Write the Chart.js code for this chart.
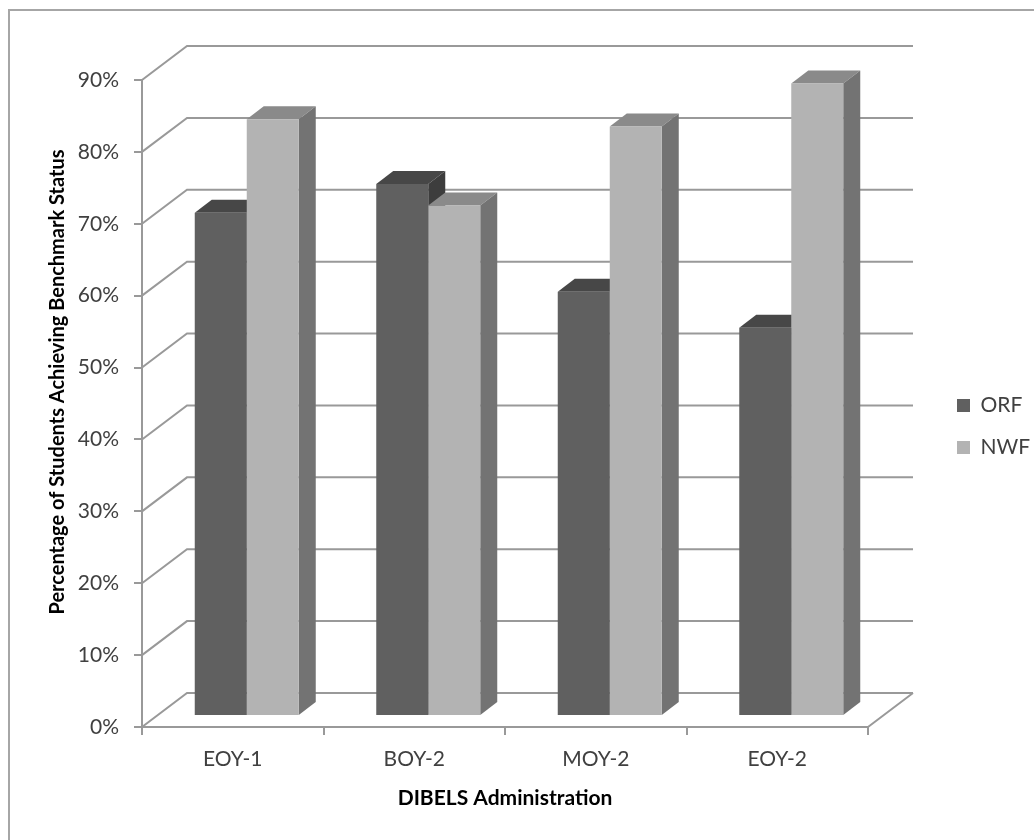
<!DOCTYPE html>
<html>
<head>
<meta charset="utf-8">
<script src="https://cdn.jsdelivr.net/npm/chart.js@4.4.1/dist/chart.umd.min.js"></script>
<style>
  html, body { margin: 0; padding: 0; background: #fff; overflow: hidden; }
  .frame { position: absolute; left: 8px; top: 9px; width: 1100px; height: 900px;
           border-top: 2px solid #a6a6a6; border-left: 2px solid #a6a6a6; }
  #chart { position: absolute; left: 0; top: 0; }
</style>
</head>
<body>
<div class="frame"></div>
<canvas id="chart" width="1034" height="840"></canvas>
<script>
const categories = ['EOY-1', 'BOY-2', 'MOY-2', 'EOY-2'];
const orfValues = [70, 74, 59, 54];
const nwfValues = [83, 71, 82, 88];
const yTicks = [0, 10, 20, 30, 40, 50, 60, 70, 80, 90];

const FONT = 'Lato';
const GRID_COLOR = '#999999';
const TEXT_COLOR = '#404040';
const frontColors = ['#606060', '#b3b3b3'];
const topColors = ['#474747', '#8a8a8a'];
const sideColors = ['#3d3d3d', '#737373'];

// fake 3d: back wall offset, where the bars sit in depth, and how thick they are
const DEPTH = { x: 45, y: -34 };
const BAR_SHIFT = { x: 14, y: -11 };
const BAR_DEPTH = { x: 17, y: -13 };
const LEGEND_WIDTH = 166;
const LEGEND_BOX = { left: 936, top: 374 };

function poly(ctx, pts) {
    ctx.beginPath();
    ctx.moveTo(pts[0][0], pts[0][1]);
    for (let i = 1; i < pts.length; i++) {
        ctx.lineTo(pts[i][0], pts[i][1]);
    }
    ctx.closePath();
    ctx.fill();
}

const threeD = {
    id: 'threeD',
    beforeLayout(chart) {
        const lg = chart.legend;
        if (lg && !lg._fixedFit) {
            const fit = lg.fit;
            lg.fit = function () {
                fit.call(this);
                this.width = LEGEND_WIDTH;
            };
            lg._fixedFit = true;
        }
    },
    afterLayout(chart) {
        const lg = chart.legend;
        const h = lg.bottom - lg.top;
        lg.left = LEGEND_BOX.left;
        lg.top = LEGEND_BOX.top;
        lg.bottom = lg.top + h;
    },
    beforeDatasetsDraw(chart) {
        const ctx = chart.ctx;
        const a = chart.chartArea;
        const y = chart.scales.y;

        // back wall and floor
        ctx.save();
        ctx.strokeStyle = GRID_COLOR;
        ctx.lineWidth = 2;
        ctx.beginPath();
        yTicks.forEach(v => {
            const py = y.getPixelForValue(v);
            ctx.moveTo(a.left, py);
            ctx.lineTo(a.left + DEPTH.x, py + DEPTH.y);
            ctx.lineTo(a.right + DEPTH.x, py + DEPTH.y);
        });
        const p0 = y.getPixelForValue(0);
        ctx.moveTo(a.right, p0);
        ctx.lineTo(a.right + DEPTH.x, p0 + DEPTH.y);
        ctx.stroke();
        ctx.restore();

        // tops and sides, then chart.js draws the fronts in the same shifted space
        ctx.save();
        ctx.translate(BAR_SHIFT.x, BAR_SHIFT.y);
        chart.data.datasets.forEach((ds, i) => {
            chart.getDatasetMeta(i).data.forEach(bar => {
                const p = bar.getProps(['x', 'y', 'base', 'width'], true);
                const l = p.x - p.width / 2;
                const r = p.x + p.width / 2;
                ctx.fillStyle = topColors[i];
                poly(ctx, [[l, p.y], [r, p.y], [r + BAR_DEPTH.x, p.y + BAR_DEPTH.y], [l + BAR_DEPTH.x, p.y + BAR_DEPTH.y]]);
                ctx.fillStyle = sideColors[i];
                poly(ctx, [[r, p.y], [r + BAR_DEPTH.x, p.y + BAR_DEPTH.y], [r + BAR_DEPTH.x, p.base + BAR_DEPTH.y], [r, p.base]]);
            });
        });
    },
    afterDatasetsDraw(chart) {
        chart.ctx.restore();
    },
    afterDraw(chart) {
        const ctx = chart.ctx;
        ctx.save();
        ctx.translate(58, 382);
        ctx.rotate(-Math.PI / 2);
        ctx.font = 'bold 20px ' + FONT;
        ctx.fillStyle = '#000';
        ctx.textAlign = 'center';
        ctx.textBaseline = 'middle';
        ctx.fillText('Percentage of Students Achieving Benchmark Status', 0, 0);
        ctx.restore();
    }
};

new Chart(document.getElementById('chart'), {
    type: 'bar',
    data: {
        labels: categories,
        datasets: [
            { label: 'ORF', data: orfValues, backgroundColor: frontColors[0], clip: false },
            { label: 'NWF', data: nwfValues, backgroundColor: frontColors[1], clip: false }
        ]
    },
    options: {
        responsive: false,
        animation: false,
        layout: { padding: { top: 80, right: 0, bottom: 0, left: 0 } },
        datasets: {
            bar: { categoryPercentage: 0.573, barPercentage: 1 }
        },
        scales: {
            x: {
                afterFit: s => { s.height = 113; },
                grid: { drawOnChartArea: false, color: GRID_COLOR, lineWidth: 2, tickLength: 8 },
                border: { color: GRID_COLOR, width: 2 },
                ticks: { color: TEXT_COLOR, font: { family: FONT, size: 21 }, padding: 12 },
                title: {
                    display: true,
                    text: 'DIBELS Administration',
                    color: '#000',
                    font: { family: FONT, size: 21, weight: 'bold' },
                    padding: { top: 0, bottom: 29 }
                }
            },
            y: {
                min: 0,
                max: 90,
                afterFit: s => { s.width = 142; },
                afterBuildTicks: s => { s.ticks = yTicks.map(v => ({ value: v })); },
                grid: { drawOnChartArea: false, color: GRID_COLOR, lineWidth: 2, tickLength: 8 },
                border: { color: GRID_COLOR, width: 2 },
                ticks: {
                    color: TEXT_COLOR,
                    font: { family: FONT, size: 21 },
                    padding: 15,
                    callback: v => v + '%'
                }
            }
        },
        plugins: {
            legend: {
                position: 'right',
                align: 'start',
                labels: {
                    boxWidth: 13,
                    boxHeight: 13,
                    padding: 21,
                    color: TEXT_COLOR,
                    font: { family: FONT, size: 21 },
                    sort: (a, b) => a.datasetIndex - b.datasetIndex
                }
            },
            tooltip: { enabled: false }
        }
    },
    plugins: [threeD]
});
</script>
</body>
</html>
